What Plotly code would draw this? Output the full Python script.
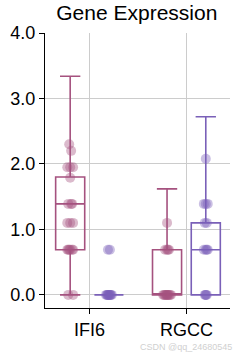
import plotly.graph_objects as go

genes = ["IFI6", "RGCC"]
groups = ["Group A", "Group B"]
colors = ["#a5527f", "#7a60b8"]

# precomputed box statistics per group, per gene
q1 = {"Group A": [0.69, 0.0], "Group B": [0.0, 0.0]}
median = {"Group A": [1.39, 0.0], "Group B": [0.0, 0.69]}
q3 = {"Group A": [1.80, 0.69], "Group B": [0.0, 1.10]}
lowerfence = {"Group A": [0.0, 0.0], "Group B": [0.0, 0.0]}
upperfence = {"Group A": [3.34, 1.62], "Group B": [0.0, 2.72]}

# individual observations (log expression)
pts_A_IFI6 = [0, 0, 0.69, 0.69, 0.69, 0.69, 0.69, 0.69, 1.10, 1.10, 1.10,
              1.39, 1.39, 1.39, 1.79, 1.95, 1.95, 1.95, 2.20, 2.30]
pts_B_IFI6 = [0, 0, 0, 0, 0, 0, 0, 0, 0, 0, 0.69, 0.69]
pts_A_RGCC = [0, 0, 0, 0, 0, 0, 0, 0, 0, 0, 0.69, 0.69, 0.69, 0.69, 1.10]
pts_B_RGCC = [0, 0, 0, 0, 0.69, 0.69, 0.69, 0.69, 1.10, 1.10, 1.39, 1.39, 1.39, 2.08]

jit_A_IFI6 = [-0.02, 0.03, -0.03, 0.0, 0.03, -0.01, 0.02, -0.02, -0.03, 0.0, 0.03,
              -0.02, 0.01, 0.02, 0.0, -0.03, 0.0, 0.03, 0.01, -0.01]
jit_B_IFI6 = [-0.03, -0.02, -0.01, 0.0, 0.01, 0.02, 0.03, -0.015, 0.015, 0.0, -0.01, 0.01]
jit_A_RGCC = [-0.04, -0.03, -0.02, -0.01, 0.0, 0.01, 0.02, 0.03, 0.04, 0.0, -0.02, 0.0, 0.02, 0.01, 0.0]
jit_B_RGCC = [-0.01, 0.01, 0.0, 0.0, -0.02, 0.0, 0.02, 0.01, -0.01, 0.01, -0.02, 0.0, 0.02, 0.0]

points = {"Group A": [pts_A_IFI6, pts_A_RGCC], "Group B": [pts_B_IFI6, pts_B_RGCC]}
jitters = {"Group A": [jit_A_IFI6, jit_A_RGCC], "Group B": [jit_B_IFI6, jit_B_RGCC]}

yticks = [0.0, 1.0, 2.0, 3.0, 4.0]
ytick_text = ["0.0", "1.0", "2.0", "3.0", "4.0"]

offsets = [-0.2, 0.2]

fig = go.Figure()
for g, col, off in zip(groups, colors, offsets):
    xs = [i + off for i in range(len(genes))]
    fig.add_trace(go.Box(
        x=xs, q1=q1[g], median=median[g], q3=q3[g],
        lowerfence=lowerfence[g], upperfence=upperfence[g],
        width=0.3, whiskerwidth=0.7, boxpoints=False,
        line=dict(color=col, width=1.6), fillcolor="rgba(0,0,0,0)",
        showlegend=False, hoverinfo="skip"))
for g, col, off in zip(groups, colors, offsets):
    for i in range(len(genes)):
        ys = points[g][i]
        xs = [i + off + j for j in jitters[g][i]]
        fig.add_trace(go.Scatter(
            x=xs, y=ys, mode="markers",
            marker=dict(color=col, size=10, opacity=0.4, line=dict(width=0)),
            showlegend=False, hoverinfo="skip"))

fig.update_layout(
    width=240, height=360,
    margin=dict(l=43, r=10, t=33, b=52),
    paper_bgcolor="white", plot_bgcolor="white",
    font=dict(family="Liberation Sans, Arial, sans-serif", size=18, color="black"),
    title=dict(text="Gene Expression", x=0.57, xanchor="center", y=0.965, yanchor="middle",
               font=dict(size=21)),
    xaxis=dict(range=[-0.46, 1.45], tickvals=[0, 1], ticktext=genes,
               showgrid=True, gridcolor="#cccccc", gridwidth=1,
               showline=True, linecolor="black", linewidth=1.2,
               ticks="outside", ticklen=5, tickcolor="black", zeroline=False,
               tickfont=dict(size=18)),
    yaxis=dict(range=[-0.2, 4.0], tickvals=yticks, ticktext=ytick_text,
               showgrid=True, gridcolor="#cccccc", gridwidth=1,
               showline=True, linecolor="black", linewidth=1.2,
               ticks="outside", ticklen=5, tickcolor="black", zeroline=False,
               tickfont=dict(size=18)),
    annotations=[dict(text="CSDN @qq_24680545", x=1.02, y=-0.14, xref="paper", yref="paper",
                      xanchor="right", yanchor="middle", showarrow=False,
                      font=dict(size=9, color="#d0d0d0"))],
)

fig.write_html("out.html")
